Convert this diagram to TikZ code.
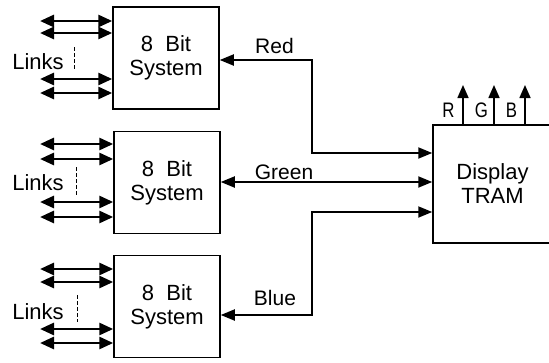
\documentclass[tikz,border=0pt]{standalone}
\usepackage{fontspec}
\setmainfont{Liberation Sans}
\usetikzlibrary{arrows.meta}
\begin{document}
\begin{tikzpicture}[x=1pt,y=-1pt,
  sysbox/.style={draw, line width=1.5pt, minimum width=106pt, minimum height=102pt, inner sep=0pt, align=center, font=\fontsize{22}{24}\selectfont},
  linkarr/.style={line width=2.8pt, {Triangle[length=14pt,width=12pt]}-{Triangle[length=14pt,width=12pt]}},
  sigboth/.style={line width=1.9pt, {Triangle[length=14pt,width=11pt]}-{Triangle[length=14pt,width=11pt]}},
  sigout/.style={line width=1.6pt, -{Triangle[length=13pt,width=11pt]}},
  lbl/.style={font=\fontsize{21}{24}\selectfont, inner sep=0pt},
  dashv/.style={line width=1pt, dash pattern=on 4pt off 2pt}]
\useasboundingbox (0,0) rectangle (549,362);

% systems
\node[sysbox] (s1) at (166,58) {8\ \ Bit\\System};
\node[sysbox] (s2) at (167,182.5) {8\ \ Bit\\System};
\node[sysbox] (s3) at (167,306.5) {8\ \ Bit\\System};
\node[sysbox, minimum width=119pt, minimum height=118pt] (disp) at (492.5,184) {Display\\TRAM};

% links
\foreach \n/\ya/\yb/\yc/\yd/\yl/\dt/\db/\dx in {1/21/33/79/93/62/47/70/74, 2/144/159/202/217/183/167/195/76, 3/269/282/329/343/312/295/322/77}{
  \coordinate (la\n) at (40,\ya);
  \coordinate (lb\n) at (40,\yb);
  \coordinate (lc\n) at (40,\yc);
  \coordinate (ld\n) at (40,\yd);
  \draw[linkarr] (la\n) -- (la\n -| s\n.west);
  \draw[linkarr] (lb\n) -- (lb\n -| s\n.west);
  \draw[linkarr] (lc\n) -- (lc\n -| s\n.west);
  \draw[linkarr] (ld\n) -- (ld\n -| s\n.west);
  \node[lbl, font=\fontsize{22}{24}\selectfont] (lk\n) at (38,\yl) {Links};
  \coordinate (dt\n) at (\dx,\dt);
  \coordinate (db\n) at (\dx,\db);
  \draw[dashv] (dt\n) -- (db\n);
}

% signal lines
\coordinate (rb) at (312,60);
\coordinate (rd) at (433,153);
\draw[sigboth] (s1.east |- rb) -- (rb) |- (disp.west |- rd);
\node[lbl] (red) at (274.5,46) {Red};

\coordinate (gy) at (0,182);
\draw[sigboth] (s2.east |- gy) -- (disp.west |- gy);
\node[lbl] (green) at (284,172) {Green};

\coordinate (bb) at (312,212);
\coordinate (bs) at (220,315);
\draw[sigboth] (s3.east |- bs) -| (bb) -- (disp.west |- bb);
\node[lbl] (blue) at (275,297.5) {Blue};

% RGB outputs
\foreach \x/\c/\lx in {463/R/448.5, 494/G/481.5, 525/B/511.5}{
  \coordinate (o\c) at (\x,85);
  \draw[sigout] (disp.north -| o\c) -- (o\c);
  \node[lbl, xscale=0.8] (t\c) at (\lx,110) {\c};
}
\end{tikzpicture}
\end{document}
